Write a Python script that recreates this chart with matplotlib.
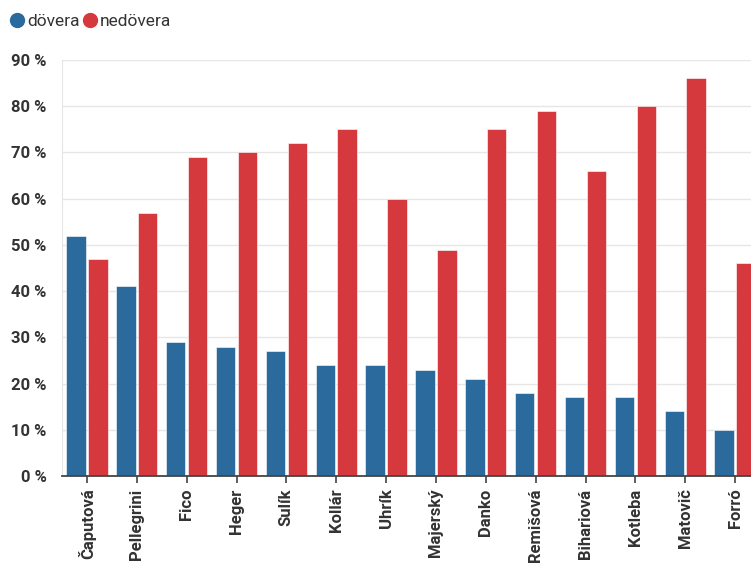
import matplotlib.pyplot as plt
from matplotlib.lines import Line2D
import numpy as np

# politicians and trust / distrust shares in percent
names = ["Čaputová", "Pellegrini", "Fico", "Heger", "Sulík", "Kollár", "Uhrík",
         "Majerský", "Danko", "Remišová", "Bihariová", "Kotleba", "Matovič", "Forró"]
dovera = [52, 41, 29, 28, 27, 24, 24, 23, 21, 18, 17, 17, 14, 10]
nedovera = [47, 57, 69, 70, 72, 75, 60, 49, 75, 79, 66, 80, 86, 46]
y_ticks = [0, 10, 20, 30, 40, 50, 60, 70, 80, 90]

blue = "#2a6a9c"
red = "#d5393e"
txt = "#333333"

plt.rcParams['font.family'] = ['Roboto', 'Liberation Sans', 'DejaVu Sans']

fig = plt.figure(figsize=(7.51, 5.65), dpi=100)
# axes run past the right edge, like the original crop
ax = fig.add_axes([62 / 751, 89 / 565, 698 / 751, 416 / 565])

x = np.arange(len(names))
ax.bar(x - 0.22, dovera, width=0.39, color=blue, edgecolor="#ffffff", linewidth=0.4, zorder=3)
ax.bar(x + 0.22, nedovera, width=0.39, color=red, edgecolor="#ffffff", linewidth=0.4, zorder=3)

ax.set_xlim(-0.5, len(names) - 0.5)
ax.set_ylim(0, 90)
ax.set_yticks(y_ticks)
ax.set_yticklabels([f"{v} %" for v in y_ticks], fontsize=12, fontweight="bold", color=txt)
ax.set_xticks(x)
ax.set_xticklabels(names, rotation=90, fontsize=12, fontweight="bold", color=txt)

ax.grid(axis="y", color="#e6e6e6", linewidth=1, zorder=0)
ax.tick_params(axis="y", length=0, pad=11)
ax.tick_params(axis="x", length=5, width=1.2, color="#444444", pad=4)

for s in ["top", "right"]:
    ax.spines[s].set_visible(False)
ax.spines["left"].set_color("#e6e6e6")
ax.spines["bottom"].set_color("#444444")
ax.spines["bottom"].set_linewidth(1.3)
ax.spines["bottom"].set_zorder(4)

handles = [Line2D([], [], marker="o", linestyle="", markersize=10, color=blue),
           Line2D([], [], marker="o", linestyle="", markersize=10, color=red)]
fig.legend(handles, ["dövera", "nedövera"], loc="upper left", bbox_to_anchor=(-0.008, 1.002),
           ncol=2, frameon=False, handletextpad=0.05, columnspacing=0.1,
           handlelength=1.0, borderaxespad=0.45, fontsize=12.5, labelcolor=txt)

fig.savefig("out.png", dpi=100)
